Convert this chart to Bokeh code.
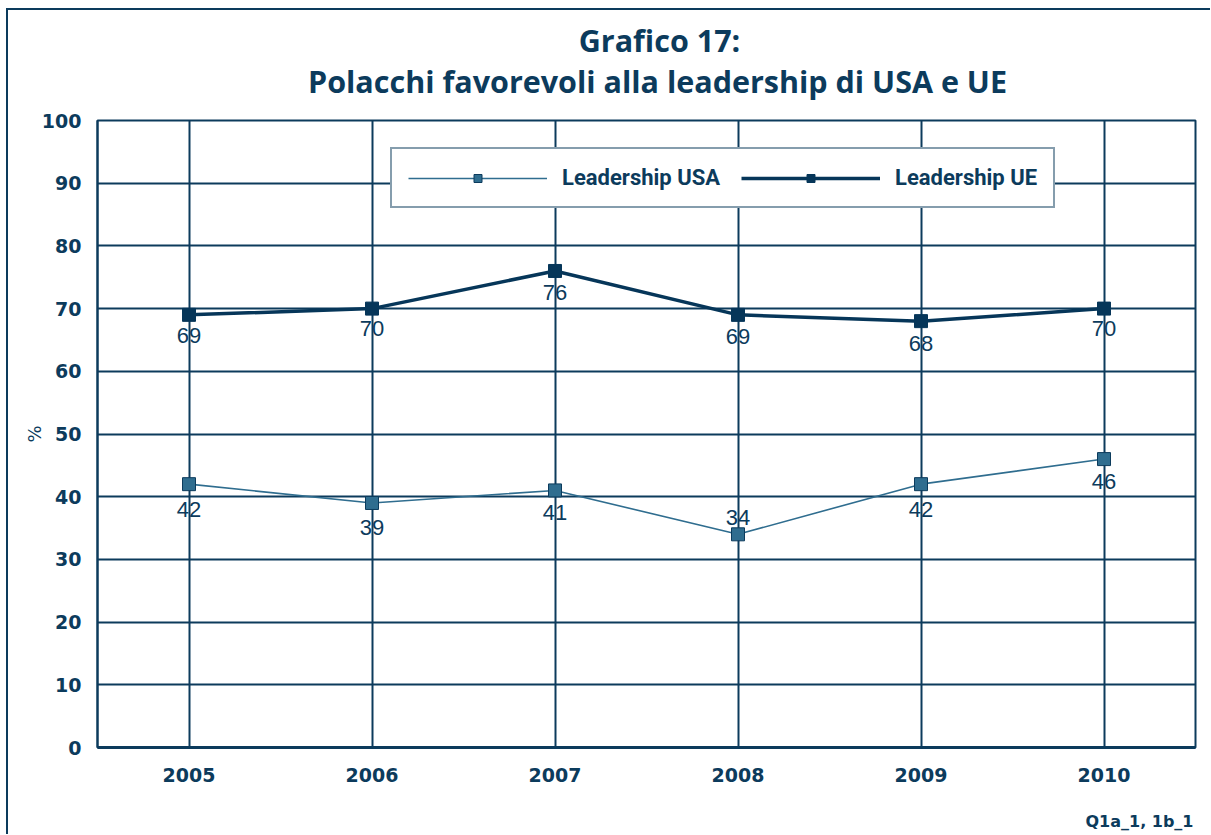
from bokeh.plotting import figure
from bokeh.models import Legend, LegendItem, Label, FixedTicker, ColumnDataSource, LabelSet, Range1d
from bokeh.layouts import column
from bokeh.embed import file_html
from bokeh.resources import INLINE
from bokeh.core.properties import value

years = [2005, 2006, 2007, 2008, 2009, 2010]
usa = [42, 39, 41, 34, 42, 46]
ue = [69, 70, 76, 69, 68, 70]
usa_label_offset = [-25, -25, -22, 17, -25, -22]
ue_label_offset = [-21, -20, -22, -22, -22, -20]
y_ticks = [0, 10, 20, 30, 40, 50, 60, 70, 80, 90, 100]
title1 = "Grafico 17:"
title2 = "Polacchi favorevoli alla leadership di USA e UE"
footnote = "Q1a_1, 1b_1"

NAVY = "#0c3b5c"
USA_C = "#2f6d8f"
UE_C = "#063659"
W = 1202
ML, MR = 89, 15


def text_strip(height):
    f = figure(width=W, height=height, output_backend="svg", toolbar_location=None, title=None,
               x_range=Range1d(ML, W - MR), y_range=Range1d(height, 0),
               x_axis_location=None, y_axis_location=None,
               min_border_left=ML, min_border_right=MR,
               min_border_top=0, min_border_bottom=0)
    f.outline_line_color = None
    f.grid.visible = False
    return f


# ---- title strip ----
top = text_strip(100)
top.add_layout(Label(x=651, y=29, text=title1, text_align="center", text_baseline="alphabetic",
                     text_font="Open Sans", text_font_style="bold", text_font_size="30.5px",
                     text_color=NAVY))
top.add_layout(Label(x=649, y=70, text=title2, text_align="center", text_baseline="alphabetic",
                     text_font="Open Sans", text_font_style="bold", text_font_size="30.5px",
                     text_color=NAVY))

# ---- main chart ----
p = figure(width=W, height=687, output_backend="svg", toolbar_location=None,
           x_range=(2004.5, 2010.5), y_range=(0, 100),
           min_border_left=ML, min_border_right=MR, min_border_top=10, min_border_bottom=50)

p.outline_line_color = NAVY
p.outline_line_width = 2
p.outline_line_alpha = 1

p.xaxis.ticker = FixedTicker(ticks=years)
p.yaxis.ticker = FixedTicker(ticks=y_ticks)
for ax in (p.xaxis[0], p.yaxis[0]):
    ax.major_tick_line_color = None
    ax.minor_tick_line_color = None
    ax.axis_line_color = NAVY
    ax.major_label_text_font = "DejaVu Sans"
    ax.major_label_text_font_style = "bold"
    ax.major_label_text_font_size = "19px"
    ax.major_label_text_color = NAVY
p.xaxis.axis_line_width = 3
p.yaxis.axis_line_width = 2
p.xaxis.major_label_standoff = 14
p.yaxis.major_label_standoff = 10
p.yaxis.axis_label = "%"
p.yaxis.axis_label_text_font = "DejaVu Sans"
p.yaxis.axis_label_text_font_style = "normal"
p.yaxis.axis_label_text_font_size = "18px"
p.yaxis.axis_label_text_color = NAVY
p.yaxis.axis_label_standoff = -6

p.xgrid.ticker = FixedTicker(ticks=years)
p.ygrid.ticker = FixedTicker(ticks=y_ticks)
for g in (p.xgrid[0], p.ygrid[0]):
    g.grid_line_color = NAVY
    g.grid_line_width = 2
    g.grid_line_alpha = 1

src = ColumnDataSource(dict(x=years, usa=usa, ue=ue, usa_lbl=[str(v) for v in usa],
                            ue_lbl=[str(v) for v in ue], usa_off=usa_label_offset, ue_off=ue_label_offset))

l_usa = p.line("x", "usa", source=src, line_color=USA_C, line_width=1.6)
m_usa = p.scatter("x", "usa", source=src, marker="square", size=13, fill_color=USA_C, line_color=NAVY, line_width=1)
l_ue = p.line("x", "ue", source=src, line_color=UE_C, line_width=3.5)
m_ue = p.scatter("x", "ue", source=src, marker="square", size=13, fill_color=UE_C, line_color=UE_C, line_width=1)

for col, ys, off in (("usa_lbl", "usa", "usa_off"), ("ue_lbl", "ue", "ue_off")):
    ls = LabelSet(x="x", y=ys, text=col, y_offset=off, source=src, text_align="center",
                  text_baseline="middle", text_font=value("Liberation Sans"), text_font_size="22px",
                  text_color=NAVY)
    p.add_layout(ls)

legend = Legend(items=[LegendItem(label="Leadership USA", renderers=[l_usa, m_usa]),
                       LegendItem(label="Leadership UE", renderers=[l_ue, m_ue])],
                orientation="horizontal", location=(293, 539),
                glyph_width=139, glyph_height=20, label_standoff=15, spacing=21,
                padding=16, margin=0,
                label_text_font="Roboto", label_text_font_style="bold", label_text_font_size="22px",
                label_text_color=NAVY, border_line_color=NAVY, border_line_width=2,
                background_fill_color="white", background_fill_alpha=1)
p.add_layout(legend, "center")

# ---- footnote strip ----
bottom = text_strip(824 - 100 - 687)
bottom.add_layout(Label(x=1185, y=23.5, text=footnote, text_align="right", text_baseline="alphabetic",
                        text_font="DejaVu Sans", text_font_style="bold", text_font_size="16px",
                        text_color=NAVY))

layout = column(top, p, bottom, spacing=0,
                styles={"border-left": f"2px solid {NAVY}", "border-top": f"2px solid {NAVY}",
                        "margin-left": "6px", "margin-top": "8px"})

open("out.html", "w").write(file_html(layout, INLINE))
